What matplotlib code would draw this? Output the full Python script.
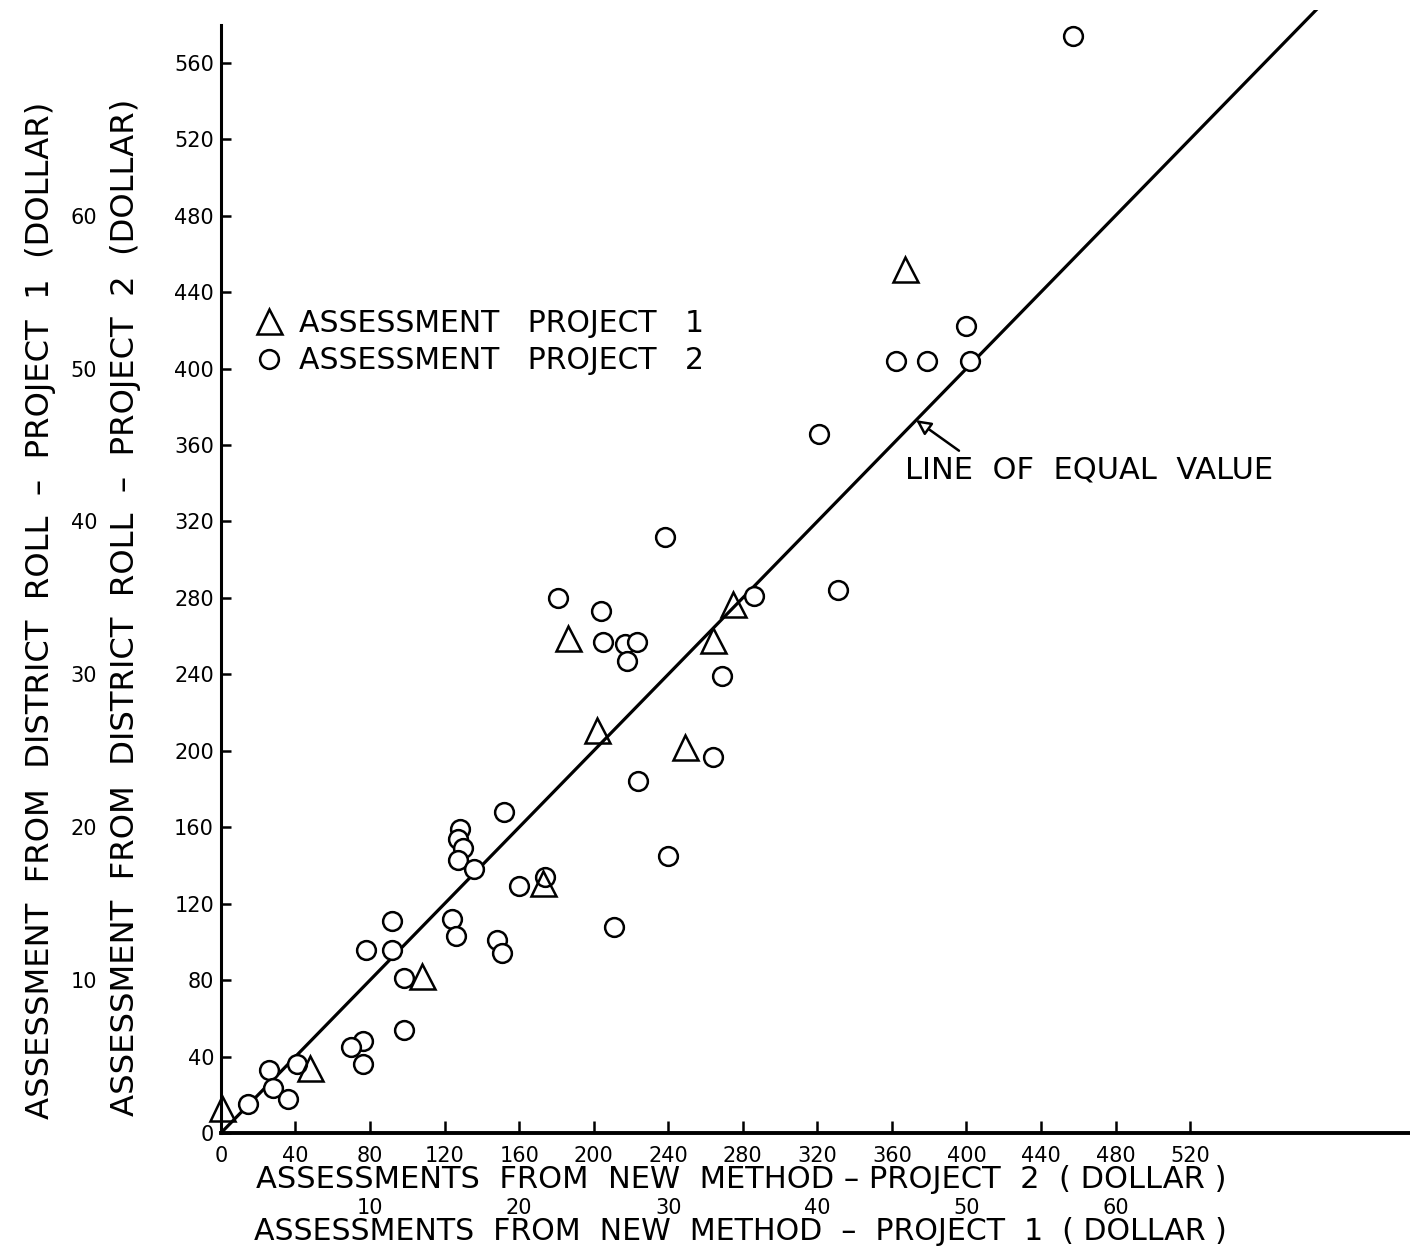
import matplotlib.pyplot as plt
from matplotlib.lines import Line2D

# assessments, project 2 (circles): new method (x) vs district roll (y), dollars
p2_new = [457, 400, 362, 379, 402, 321, 331, 286, 238, 181, 204, 205, 217, 223, 218,
          269, 264, 224, 240, 211, 152, 128, 127, 130, 127, 136, 160, 174, 124, 126,
          148, 151, 92, 78, 92, 98, 98, 76, 70, 76, 41, 26, 28, 36, 14.5]
p2_roll = [574, 422, 404, 404, 404, 366, 284, 281, 312, 280, 273, 257, 256, 257, 247,
           239, 197, 184, 145, 108, 168, 159, 154, 149, 143, 138, 129, 134, 112, 103,
           101, 94, 111, 96, 96, 81, 54, 48, 45, 36, 36, 33, 23.5, 18, 15]

# assessments, project 1 (triangles), plotted on the project 2 scale
p1_new = [367, 275, 186, 264, 202, 249, 173, 108, 48, 0.5]
p1_roll = [452, 277, 259, 258, 211, 202, 131, 82, 34, 13]

x_ticks = list(range(0, 521, 40))
y_ticks = list(range(0, 561, 40))
p1_ticks = [10, 20, 30, 40, 50, 60]
scale = 8  # project 1 dollars -> project 2 dollars on the plot

fig = plt.figure(figsize=(14.1, 12.5), dpi=100)
ax = fig.add_axes([0.1567, 0.0936, 0.8433, 0.8984])
ax.set_xlim(0, 638)
ax.set_ylim(0, 587.6)

# line of equal value
ax.plot([0, 600], [0, 600], color="black", lw=2.3, zorder=2)

ax.plot(p2_new, p2_roll, "o", ms=13.5, mfc="white", mec="black", mew=1.8, zorder=3)
ax.plot(p1_new, p1_roll, "^", ms=18, mfc="none", mec="black", mew=1.8, zorder=4,
        clip_on=False)

for s in ["top", "right"]:
    ax.spines[s].set_visible(False)
ax.spines["left"].set_bounds(0, 580)
ax.spines["left"].set_linewidth(2.2)
ax.spines["bottom"].set_linewidth(2.8)

ax.set_xticks(x_ticks)
ax.set_yticks(y_ticks)
ax.tick_params(axis="x", direction="in", length=9, width=1.8, pad=9, labelsize=15)
ax.tick_params(axis="y", direction="in", length=7, width=1.8, pad=5, labelsize=15)

# project 1 scales
secx = ax.secondary_xaxis(-0.058, functions=(lambda v: v / scale, lambda v: v * scale))
secx.set_xticks(p1_ticks)
secx.tick_params(length=0, pad=0, labelsize=15)
secx.spines["bottom"].set_visible(False)

secy = ax.secondary_yaxis(-0.104, functions=(lambda v: v / scale, lambda v: v * scale))
secy.set_yticks(p1_ticks)
secy.tick_params(length=0, pad=0, labelsize=15)
secy.spines["left"].set_visible(False)

# axis titles
fig.text(0.526, 0.056, "ASSESSMENTS  FROM  NEW  METHOD – PROJECT  2  ( DOLLAR )",
         ha="center", va="center", fontsize=22)
fig.text(0.525, 0.0144, "ASSESSMENTS  FROM  NEW  METHOD  –  PROJECT  1  ( DOLLAR )",
         ha="center", va="center", fontsize=21.6)
fig.text(0.0284, 0.512, "ASSESSMENT  FROM  DISTRICT  ROLL  –  PROJECT  1  (DOLLAR)",
         ha="center", va="center", rotation=90, fontsize=23.2)
fig.text(0.0887, 0.514, "ASSESSMENT  FROM  DISTRICT  ROLL  –  PROJECT  2  (DOLLAR)",
         ha="center", va="center", rotation=90, fontsize=23.2)

# legend
handles = [
    Line2D([], [], ls="none", marker="^", ms=18, mfc="none", mec="black", mew=1.8),
    Line2D([], [], ls="none", marker="o", ms=13.5, mfc="none", mec="black", mew=1.8),
]
ax.legend(handles, ["ASSESSMENT   PROJECT   1", "ASSESSMENT   PROJECT   2"],
          loc="upper left", bbox_to_anchor=(0.172, 0.7625), bbox_transform=fig.transFigure,
          frameon=False, fontsize=21.5, handlelength=1.0, handletextpad=0.5,
          labelspacing=0.28, borderaxespad=0)

# annotation
ax.annotate("", xy=(373, 373), xytext=(396, 357),
            arrowprops=dict(arrowstyle="-|>", color="black", lw=1.8, fc="white",
                            mutation_scale=22, shrinkA=0, shrinkB=0))
ax.text(367, 347, "LINE  OF  EQUAL  VALUE", ha="left", va="center", fontsize=22)

fig.savefig("out.png", dpi=100)
